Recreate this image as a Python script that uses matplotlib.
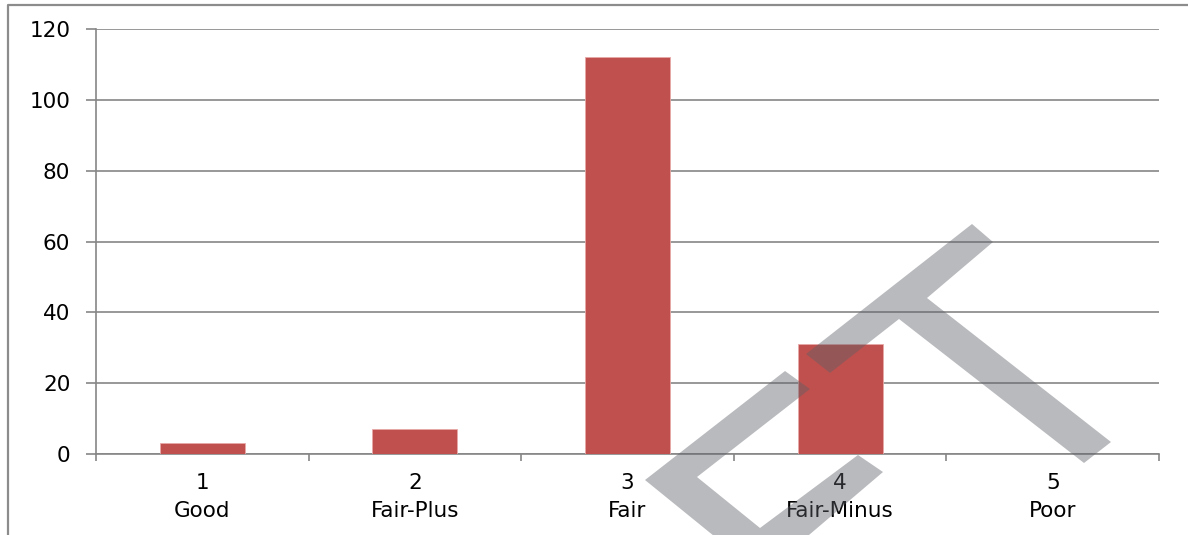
import matplotlib
matplotlib.use("Agg")
import matplotlib.pyplot as plt
from matplotlib.patches import Polygon
from matplotlib.lines import Line2D

# ratings and counts
codes = ["1", "2", "3", "4", "5"]
ratings = ["Good", "Fair-Plus", "Fair", "Fair-Minus", "Poor"]
counts = [3, 7, 112, 31, 0]
y_ticks = [0, 20, 40, 60, 80, 100, 120]

W, H = 1188, 535
BAR = "#C0504D"
GRID = "#868686"

plt.rcParams["font.family"] = ["DejaVu Sans"]

fig = plt.figure(figsize=(W / 100, H / 100), dpi=100)
ax = fig.add_axes([96 / W, 1 - 454 / H, (1159 - 96) / W, (454 - 29) / H])

pos = list(range(1, len(counts) + 1))
ax.bar(pos, counts, width=0.4, color=BAR, edgecolor="#E8A9A7", linewidth=0.6, zorder=3)

ax.set_xlim(0.5, len(counts) + 0.5)
ax.set_ylim(0, 120)
ax.set_yticks(y_ticks)
ax.set_yticklabels([str(v) for v in y_ticks], fontsize=15.5)
ax.set_xticks(pos)
ax.set_xticklabels([f"{c}\n{r}" for c, r in zip(codes, ratings)],
                   fontsize=15.5, linespacing=1.45)
ax.set_xticks([p + 0.5 for p in range(0, len(counts) + 1)], minor=True)

ax.tick_params(axis="y", length=7.5, width=1.2, color=GRID, pad=11)
ax.tick_params(axis="x", which="major", length=0, pad=14)
ax.tick_params(axis="x", which="minor", length=5, width=1.2, color=GRID)

ax.grid(axis="y", color=GRID, linewidth=1.2, zorder=1)
ax.set_axisbelow(True)
for side in ("top", "right"):
    ax.spines[side].set_visible(False)
for side in ("left", "bottom"):
    ax.spines[side].set_color(GRID)
    ax.spines[side].set_linewidth(1.2)

# frame lines at top and left of the picture
def px(x, y):
    return x / W, 1 - y / H

fig.add_artist(Line2D([8 / W, 8 / W, 1], [0, 1 - 5 / H, 1 - 5 / H],
                      transform=fig.transFigure, color="#8C8C8C", linewidth=1.6))

# grey watermark shapes
upper = [(806, 354), (972, 224), (993, 242), (927, 298), (1111, 442),
         (1084, 463), (899, 319), (830, 373)]
lower = [(785, 371), (645, 480), (762, 575), (883, 472), (858, 455),
         (760, 528), (697, 477), (810, 389)]
for shape in (upper, lower):
    fig.add_artist(Polygon([px(x, y) for x, y in shape], closed=True,
                           transform=fig.transFigure, facecolor="#5e6068",
                           edgecolor="none", alpha=0.43, zorder=5))

fig.savefig("out.png", dpi=100)
